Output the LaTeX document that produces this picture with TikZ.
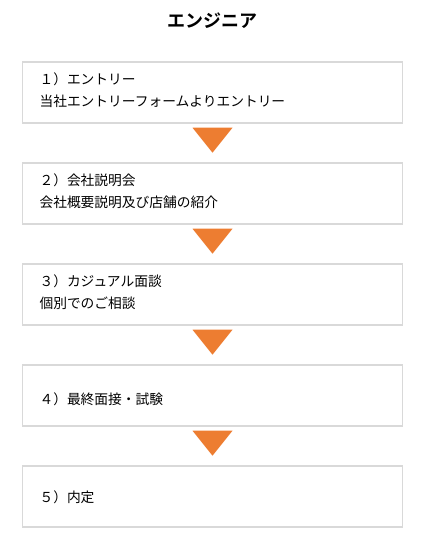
\documentclass[tikz,border=0pt]{standalone}
\usepackage{fontspec}
\newfontfamily\cjk[BoldFont={Noto Sans CJK JP Bold}]{Noto Sans CJK JP}
\usepackage{xcolor}
\usepackage{tikz}
\usetikzlibrary{
	calc								% Calculate point coordinates
}
\definecolor{flow-orange}{RGB}{237, 125, 49}
\definecolor{flow-border}{RGB}{217, 217, 217}

\begin{document}
\begin{tikzpicture}[x=0.75pt, y=-0.75pt]
		\tikzstyle{stepbox} = [draw=flow-border, line width=1.1pt, fill=white, minimum width=285pt, minimum height=45.75pt, inner sep=0pt]
		\tikzstyle{steptext} = [anchor=west, inner sep=0pt, text height=0.88em, text depth=0.12em, font=\cjk\fontsize{10.3pt}{12pt}\selectfont]
		\tikzstyle{arrowfill} = [fill=flow-orange]
		
		\useasboundingbox (0,0) rectangle (422,545);
		
		% Title
		\node[font=\cjk\bfseries\fontsize{13.5pt}{16pt}\selectfont] at (212.5, 21) (title) {エンジニア};
		
		% Boxes
		\foreach \idx/\ypos in {1/92.5, 2/193.5, 3/294.5, 4/395.5, 5/496.5}{
			\node[stepbox] at (212.5, \ypos) (step\idx) {};
		}
		
		% Texts
		%% Two lines
		\foreach \idx/\head/\body in {1/１）エントリー/当社エントリーフォームよりエントリー, 2/２）会社説明会/会社概要説明及び店舗の紹介, 3/３）カジュアル面談/個別でのご相談}{
			\node[steptext] at ($(step\idx.north west)+(17.5,18.5)$) (step\idx head) {\head};
			\node[steptext] at ($(step\idx.north west)+(17.5,40.5)$) (step\idx body) {\body};
		}
		%% One line
		\node[steptext] at ($(step4.west)+(17.5,4)$) (step4head) {４）最終面接・試験};
		\node[steptext] at ($(step5.west)+(17.5,0.5)$) (step5head) {５）内定};
		
		% Arrows between boxes
		\foreach \idx in {1, ..., 4}{
			\fill[arrowfill] ($(step\idx.south)+(-20,4)$) -- ($(step\idx.south)+(20,4)$) -- ($(step\idx.south)+(0,29)$) -- cycle;
		}
	\end{tikzpicture}
\end{document}
